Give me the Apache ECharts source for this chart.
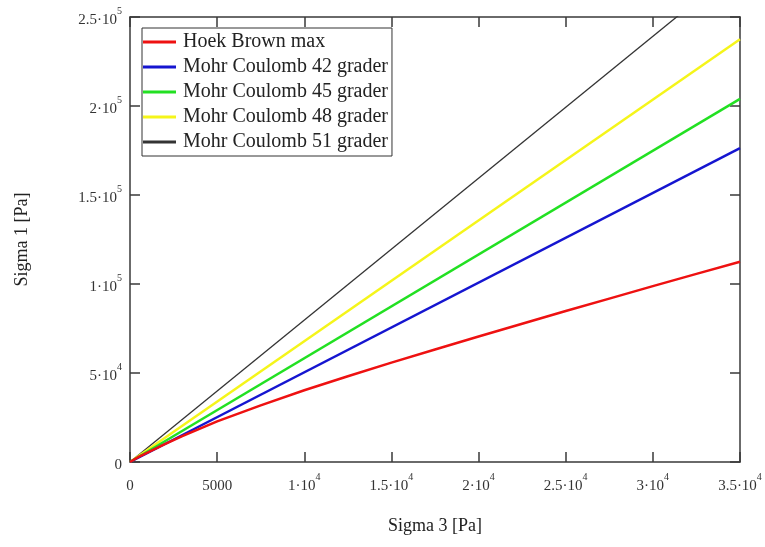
<!DOCTYPE html>
<html>
<head>
<meta charset="utf-8">
<script src="https://cdn.jsdelivr.net/npm/echarts@6/dist/echarts.min.js"></script>
<style>html,body{margin:0;padding:0;background:#fff}#c{width:765px;height:547px}</style>
</head>
<body>
<div id="c"></div>
<script>
// Sigma 3 sample points [Pa] and Hoek-Brown curve
const hbSigma3 = [0, 500, 1000, 2000, 2500, 3000, 5000, 7500, 10000, 12500, 15000, 17500, 20000, 22500, 25000, 27500, 30000, 32500, 35000];
const hbSigma1 = [0, 2900, 5300, 10000, 12300, 14500, 22800, 31800, 40300, 48200, 55800, 63200, 70500, 77700, 84800, 91800, 98800, 105700, 112500];
// Mohr Coulomb straight lines: start and end points
const mcSigma3 = [0, 35000];
const mc42 = [0, 176300];
const mc45 = [0, 204000];
const mc48 = [0, 237500];
const mc51 = [0, 279000];
const seriesNames = ['Hoek Brown max', 'Mohr Coulomb 42 grader', 'Mohr Coulomb 45 grader', 'Mohr Coulomb 48 grader', 'Mohr Coulomb 51 grader'];
const xTickLabels = [['0',''], ['5000',''], ['1·10','4'], ['1.5·10','4'], ['2·10','4'], ['2.5·10','4'], ['3·10','4'], ['3.5·10','4']];
const yTickLabels = [['0',''], ['5·10','4'], ['1·10','5'], ['1.5·10','5'], ['2·10','5'], ['2.5·10','5']];

const FONT = '"Liberation Serif", "DejaVu Serif", serif';
const AX = '#3a3a3a';
const richTicks = {
  b: {fontFamily: FONT, fontSize: 15, color: '#333', lineHeight: 22, verticalAlign: 'bottom'},
  s: {fontFamily: FONT, fontSize: 10, color: '#333', lineHeight: 22, verticalAlign: 'top'}
};
function fmt(arr, step) {
  return function (v) {
    const t = arr[Math.round(v / step)];
    if (!t) return '';
    return t[1] ? '{b|' + t[0] + '}{s|' + t[1] + '}' : '{b|' + t[0] + '}';
  };
}
const pair = (xs, ys) => xs.map((x, i) => [x, ys[i]]);

const chart = echarts.init(document.getElementById('c'), null, {renderer: 'canvas'});
const lineBase = {type: 'line', showSymbol: false, symbol: 'none', clip: true, animation: false};
chart.setOption({
  backgroundColor: '#fff',
  animation: false,
  grid: {left: 130, right: 25, top: 17, bottom: 85, containLabel: false},
  legend: {
    orient: 'vertical', left: 142, top: 28,
    data: seriesNames,
    icon: 'rect', itemWidth: 33, itemHeight: 3, itemGap: 5,
    padding: [4, 4, 4, 1],
    borderColor: '#333', borderWidth: 1, backgroundColor: '#fff',
    textStyle: {fontFamily: FONT, fontSize: 20, color: '#222', lineHeight: 20, padding: [0, 0, 0, 2]}
  },
  xAxis: [{
    type: 'value', min: 0, max: 35000, interval: 5000, position: 'bottom',
    name: 'Sigma 3 [Pa]', nameLocation: 'middle', nameGap: 55,
    nameTextStyle: {fontFamily: FONT, fontSize: 18, color: '#222'},
    axisLine: {show: true, onZero: false, lineStyle: {color: AX, width: 1.5}},
    axisTick: {show: true, inside: true, length: 10, lineStyle: {color: AX, width: 1.5}},
    axisLabel: {margin: 10, formatter: fmt(xTickLabels, 5000), rich: richTicks},
    splitLine: {show: false}
  }, {
    type: 'value', min: 0, max: 35000, interval: 5000, position: 'top',
    axisLine: {show: true, onZero: false, lineStyle: {color: AX, width: 1.5}},
    axisTick: {show: true, inside: true, length: 10, lineStyle: {color: AX, width: 1.5}},
    axisLabel: {show: false}, splitLine: {show: false}
  }],
  yAxis: [{
    type: 'value', min: 0, max: 250000, interval: 50000, position: 'left',
    name: 'Sigma 1 [Pa]', nameLocation: 'middle', nameGap: 99, nameRotate: 90,
    nameTextStyle: {fontFamily: FONT, fontSize: 18, color: '#222'},
    axisLine: {show: true, onZero: false, lineStyle: {color: AX, width: 1.5}},
    axisTick: {show: true, inside: true, length: 10, lineStyle: {color: AX, width: 1.5}},
    axisLabel: {margin: 8, formatter: fmt(yTickLabels, 50000), rich: richTicks},
    splitLine: {show: false}
  }, {
    type: 'value', min: 0, max: 250000, interval: 50000, position: 'right',
    axisLine: {show: true, onZero: false, lineStyle: {color: AX, width: 1.5}},
    axisTick: {show: true, inside: true, length: 10, lineStyle: {color: AX, width: 1.5}},
    axisLabel: {show: false}, splitLine: {show: false}
  }],
  series: [
    Object.assign({}, lineBase, {name: seriesNames[0], data: pair(hbSigma3, hbSigma1), color: '#ee1111', lineStyle: {color: '#ee1111', width: 2.5}, z: 5}),
    Object.assign({}, lineBase, {name: seriesNames[1], data: pair(mcSigma3, mc42), color: '#1515d0', lineStyle: {color: '#1515d0', width: 2.5}, z: 4}),
    Object.assign({}, lineBase, {name: seriesNames[2], data: pair(mcSigma3, mc45), color: '#22e022', lineStyle: {color: '#22e022', width: 2.5}, z: 3}),
    Object.assign({}, lineBase, {name: seriesNames[3], data: pair(mcSigma3, mc48), color: '#f5f51a', lineStyle: {color: '#f5f51a', width: 2.5}, z: 2}),
    Object.assign({}, lineBase, {name: seriesNames[4], data: pair(mcSigma3, mc51), color: '#333333', lineStyle: {color: '#333333', width: 1.3}, z: 1})
  ]
});
</script>
</body>
</html>
